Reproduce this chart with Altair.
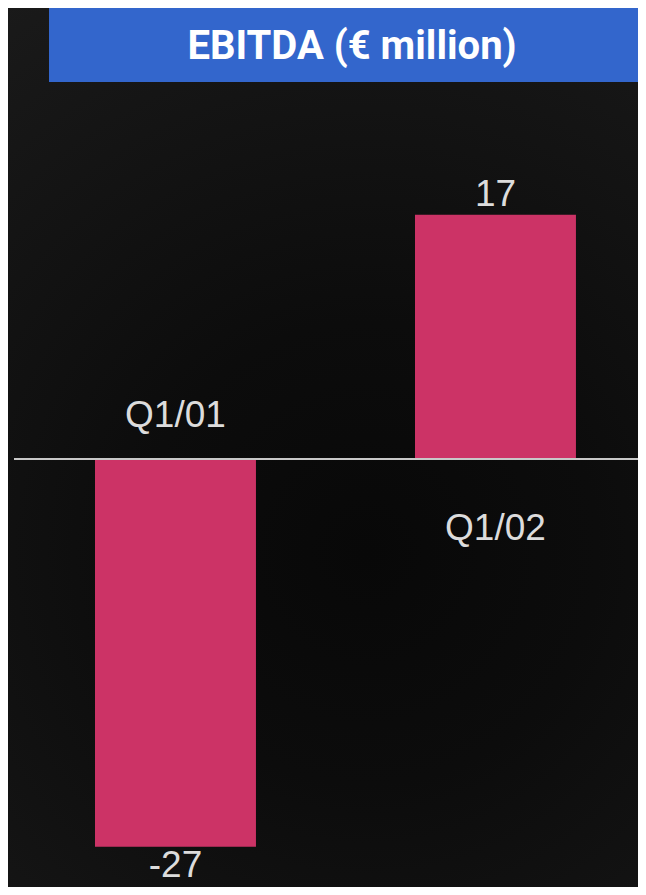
import altair as alt
import pandas as pd

quarters = ["Q1/01", "Q1/02"]
ebitda = [-27, 17]
title_text = "EBITDA (€ million)"

df = pd.DataFrame({"quarter": quarters, "value": ebitda})
tdf = pd.DataFrame({"t": [title_text]})

W, H = 630, 879
LABEL_FONT = "Liberation Sans"
LABEL_COLOR = "#dcdcdc"

x = alt.X("quarter:N", sort=quarters, axis=None,
          scale=alt.Scale(paddingInner=0.497, paddingOuter=0.2329, align=0.5837))
yscale = alt.Scale(domain=[-29.8, 31.4], nice=False, zero=False)
y = alt.Y("value:Q", axis=None, scale=yscale)
y0 = alt.Y("zero:Q", axis=None, scale=yscale)

base = alt.Chart(df).transform_calculate(zero="0", label="'' + datum.value")

bg = alt.Chart(tdf).mark_rect(
    color=alt.Gradient(
        gradient="radial",
        stops=[alt.GradientStop(color="#080808", offset=0),
               alt.GradientStop(color="#0c0c0c", offset=0.35),
               alt.GradientStop(color="#1a1a1a", offset=1)],
        x1=0.55, y1=0.62, x2=0.55, y2=0.62, r1=0, r2=0.75,
    )
).encode(x=alt.value(0), x2=alt.value(W), y=alt.value(0), y2=alt.value(H))

bars = base.mark_bar(color="#CC3366").encode(x=x, y=y, y2="zero:Q")

zero_rule = base.mark_rule(color="#c8c8c8", strokeWidth=2).encode(
    y=y0, x=alt.value(6), x2=alt.value(W)
)

val_pos = base.transform_filter("datum.value >= 0").mark_text(
    font=LABEL_FONT, fontSize=37, color=LABEL_COLOR, baseline="alphabetic", dy=-9
).encode(x=x, y=y, text="label:N")

val_neg = base.transform_filter("datum.value < 0").mark_text(
    font=LABEL_FONT, fontSize=37, color=LABEL_COLOR, baseline="alphabetic", dy=30
).encode(x=x, y=y, text="label:N")

cat_neg = base.transform_filter("datum.value < 0").mark_text(
    font=LABEL_FONT, fontSize=37, color=LABEL_COLOR, baseline="alphabetic", dy=-32
).encode(x=x, y=y0, text="quarter:N")

cat_pos = base.transform_filter("datum.value >= 0").mark_text(
    font=LABEL_FONT, fontSize=37, color=LABEL_COLOR, baseline="alphabetic", dy=81
).encode(x=x, y=y0, text="quarter:N")

title_box = alt.Chart(tdf).mark_rect(color="#3366CC").encode(
    x=alt.value(41), x2=alt.value(W), y=alt.value(0), y2=alt.value(74)
)
title_txt = alt.Chart(tdf).mark_text(
    font="Roboto", fontSize=40, fontWeight="bold", color="white",
    baseline="middle", align="center"
).encode(x=alt.value(344), y=alt.value(39), text="t:N")

chart = alt.layer(
    bg, bars, zero_rule, val_pos, val_neg, cat_neg, cat_pos, title_box, title_txt
).properties(
    width=W, height=H, padding=0,
    autosize=alt.AutoSizeParams(type="none"),
    background="#111111",
).configure_view(strokeWidth=0)

chart.save("out.html", embed_options={"renderer": "svg", "actions": False})
